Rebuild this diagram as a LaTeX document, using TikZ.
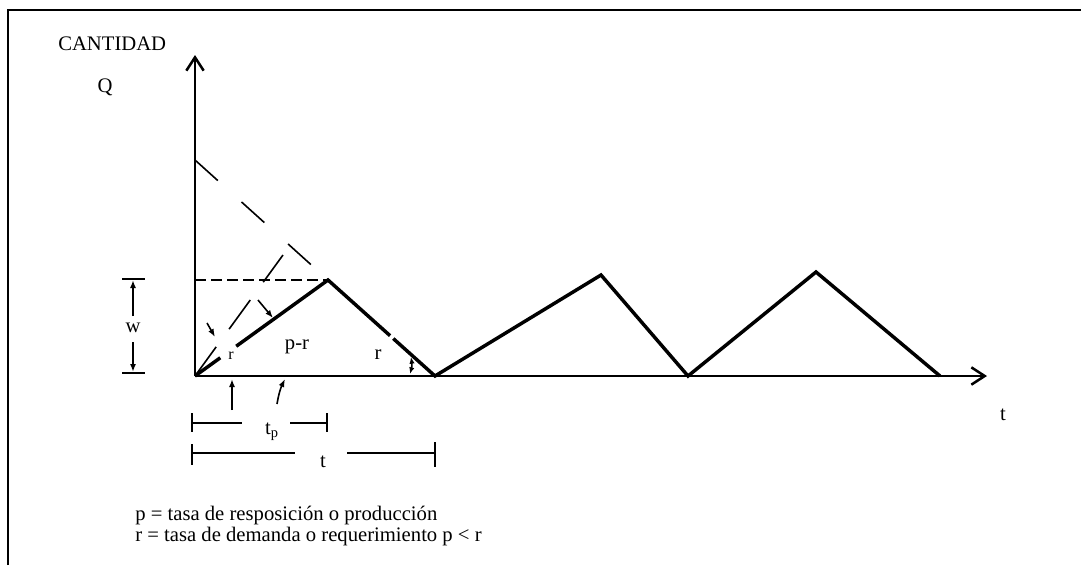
\documentclass[tikz,border=0pt]{standalone}
\usepackage{fontspec}
\setmainfont{Liberation Serif}
\usetikzlibrary{arrows.meta,calc}
\begin{document}
\begin{tikzpicture}[x=0.75pt,y=-0.75pt,
  frame/.style={line width=1.1pt},
  axis/.style={line width=1.9pt,-{Straight Barb[length=10pt,width=13pt,line width=1.9pt]}},
  stock/.style={line width=2.6pt,line join=miter},
  hdash/.style={line width=1.2pt,dash pattern=on 8.25pt off 3.75pt},
  ldash/.style={line width=1.2pt,dash pattern=on 23pt off 24pt},
  sdash/.style={line width=1.2pt,dash pattern=on 27pt off 16.5pt},
  pointer/.style={line width=1.2pt,-{Latex[length=6pt,width=4.5pt]}},
  dim/.style={line width=1.5pt},
  lbl/.style={font=\fontsize{15.5}{18}\selectfont,inner sep=0pt}
]
\useasboundingbox (0,0) rectangle (1081,565);
% frame
\draw[frame] (8,565) -- (8,10) -- (1081,10);
% key points
\coordinate (O) at (195,376);
\coordinate (P1) at (328,280);
\coordinate (B1) at (435,376);
\coordinate (P2) at (601,275);
\coordinate (B2) at (688,376);
\coordinate (P3) at (816,272);
\coordinate (B3) at (940,376);
\coordinate (Yend) at (195,55);
\coordinate (Xend) at (987,376);
\coordinate (W0) at (195,280);
\coordinate (Qmax) at (195,160);
\coordinate (S1) at (283,255);
% labels
\node[lbl,anchor=base west] (cant) at (58,50) {CANTIDAD};
\node[lbl,anchor=base] (q) at (105,92) {Q};
\node[lbl] (tax) at (1003,415) {t};
% axes
\draw[axis] (O) -- (Yend);
\draw[axis] (O) -- (Xend);
% dashed construction lines
\draw[hdash] (W0) -- (P1);
\draw[ldash] (Qmax) -- (P1);
\draw[sdash] (O) -- (S1);
% inventory curve
\draw[stock] (O) -- ($(O)!0.19!(P1)$);
\draw[stock] ($(O)!0.31!(P1)$) -- (P1) -- ($(P1)!0.58!(B1)$);
\draw[stock] ($(P1)!0.61!(B1)$) -- (B1) -- (P2) -- (B2) -- (P3) -- (B3);
% rate labels and pointers
\node[lbl] (pr) at (297,347) {p-r};
\node[lbl] (r1) at (378,355) {r};
\node[lbl,font=\fontsize{12}{14}\selectfont] (r0) at (231,356) {r};
\coordinate (a1s) at (207,323); \coordinate (a1e) at (215,337);
\coordinate (a2s) at (258,300); \coordinate (a2e) at (273,318);
\draw[pointer] (a1s) -- (a1e);
\draw[pointer] (a2s) -- (a2e);
\coordinate (a3s) at (232,410); \coordinate (a3e) at (232,379);
\coordinate (a4s) at (277,404); \coordinate (a4e) at (285,379);
\draw[pointer] (a3s) -- (a3e);
\draw[pointer] (a4s) to[bend left=8] (a4e);
\coordinate (a5s) at (410,374); \coordinate (a5e) at (411,357);
\draw[line width=1.2pt,{Latex[length=5pt,width=4pt]}-{Latex[length=5pt,width=4pt]}] (a5s) to[bend right=12] (a5e);
% w dimension
\draw[dim] (122,279) -- (145,279);
\draw[dim] (122,373) -- (145,373);
\node[lbl] (w) at (133,328) {w};
\coordinate (wt) at (133,280); \coordinate (wb) at (133,372);
\draw[pointer,line width=1.5pt] (133,316) -- (wt);
\draw[pointer,line width=1.5pt] (133,342) -- (wb);
% tp dimension
\draw[dim] (192,413) -- (192,432);
\draw[dim] (192,423) -- (242,423);
\draw[dim] (290,423) -- (327,423);
\draw[dim] (327,413) -- (327,432);
\node[lbl] (tp) at (272,432) {t\textsubscript{p}};
% t dimension
\draw[dim] (192,444) -- (192,465);
\draw[dim] (192,453) -- (295,453);
\draw[dim] (347,453) -- (435,453);
\draw[dim] (435,442) -- (435,467);
\node[lbl] (tt) at (323,462) {t};
% legend
\node[lbl,anchor=base west] (leg1) at (135,520) {p = tasa de resposición o producción};
\node[lbl,anchor=base west] (leg2) at (135,541) {r = tasa de demanda o requerimiento p < r};
\end{tikzpicture}
\end{document}
